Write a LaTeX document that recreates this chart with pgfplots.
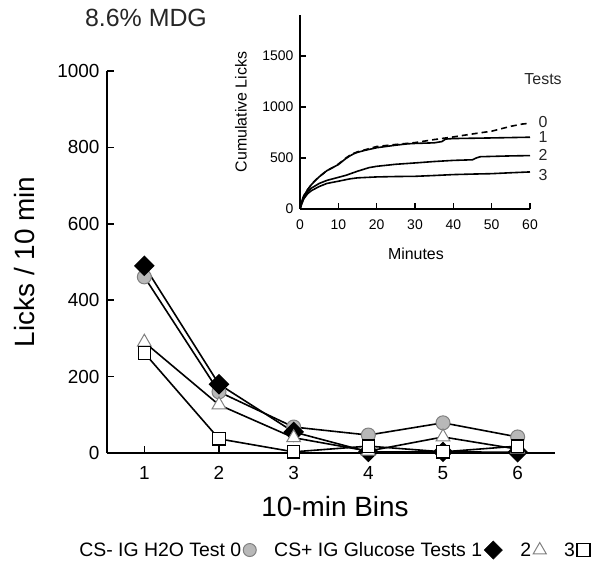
\documentclass[border=0pt]{standalone}
\usepackage{pgfplots}
\pgfplotsset{compat=1.18}
\usepackage{fontspec}
\setmainfont{Liberation Sans}
\newcommand{\fs}[1]{\fontsize{#1}{#1}\selectfont}
\pgfplotsset{markleg/.style={legend image code/.code={\draw[##1] plot coordinates {(0.22cm,0cm)};}}}
\definecolor{cgray}{HTML}{B8B8B8}
\definecolor{cgrayd}{HTML}{808080}
\begin{document}
\begin{tikzpicture}
\useasboundingbox (0,0) rectangle (604bp,569bp);
\node[font=\fs{25}, text=black!85] at (146bp,551bp) {8.6\% MDG};
% ---------------- main axis ----------------
\begin{axis}[
  at={(107bp,116bp)}, anchor=south west,
  width=448bp, height=382bp, scale only axis,
  xmin=0.5, xmax=6.5, ymin=0, ymax=1000,
  axis x line*=bottom, axis y line*=left,
  axis line style={line width=2.5bp,-},
  xtick={1,...,6}, ytick={0,200,...,1000},
  tick align=inside, major tick length=7bp,
  tick style={line width=1.5bp,black},
  /pgf/number format/assume math mode=true,
  /pgf/number format/1000 sep={},
  ticklabel style={font=\fs{19}},
  xticklabel style={yshift=-10bp},
  yticklabel style={xshift=-4bp},
  xlabel={10-min Bins}, ylabel={Licks / 10 min},
  label style={font=\fs{28}},
  xlabel style={at={(axis description cs:0.509,-0.141)}, anchor=center},
  ylabel style={at={(axis description cs:-0.185,0.5)}, anchor=center},
  clip=false,
  legend columns=4, legend plot pos=right,
  legend style={at={(axis description cs:0.506,-0.254)}, anchor=center,
    draw=none, fill=none, font=\fs{19.5},
    /tikz/every even column/.append style={column sep=16bp}},
]
\addlegendimage{mark=*, mark size=6.5bp, mark options={fill=cgray, draw=cgrayd, line width=1bp}, markleg}
\addlegendentry{CS- IG H2O Test 0}
\addlegendimage{mark=square*, mark size=6.5bp, mark options={rotate=45, fill=black, draw=black}, markleg}
\addlegendentry{CS+ IG Glucose Tests 1}
\addlegendimage{mark=triangle, mark size=7.5bp, mark options={draw=cgrayd, line width=1bp}, markleg}
\addlegendentry{2}
\addlegendimage{mark=square, mark size=6.5bp, mark options={draw=black, line width=1.2bp}, markleg}
\addlegendentry{3}

\addplot[black, line width=1.6bp, mark=*, mark size=7bp, mark options={fill=cgray, draw=cgrayd, line width=1bp}, forget plot]
 coordinates {(1,461) (2,160) (3,68) (4,47) (5,79) (6,42)};
\addplot[black, line width=1.6bp, mark=square*, mark size=6.5bp, mark options={rotate=45, fill=black, draw=black}, forget plot]
 coordinates {(1,490) (2,180) (3,55) (4,3) (5,3) (6,2)};
\addplot[black, line width=1.6bp, mark=triangle*, mark size=8bp, mark options={fill=white, draw=cgrayd, line width=1bp}, forget plot]
 coordinates {(1,290) (2,126) (3,40) (4,5) (5,42) (6,10)};
\addplot[black, line width=1.6bp, mark=square*, mark size=6.2bp, mark options={fill=white, draw=black, line width=1.2bp}, forget plot]
 coordinates {(1,262) (2,37) (3,3) (4,18) (5,3) (6,18)};
\end{axis}
% ---------------- inset ----------------
\begin{axis}[
  at={(300bp,360bp)}, anchor=south west,
  width=230bp, height=194bp, scale only axis,
  xmin=0, xmax=60, ymin=0, ymax=1900,
  axis x line*=bottom, axis y line*=left,
  axis line style={line width=2bp,-},
  xtick={0,10,...,60}, ytick={0,500,1000,1500},
  tick align=inside, major tick length=6bp,
  tick style={line width=1.5bp,black},
  /pgf/number format/assume math mode=true,
  /pgf/number format/1000 sep={},
  ticklabel style={font=\fs{14}},
  xticklabel style={yshift=-7bp},
  yticklabel style={xshift=-3bp},
  xlabel={Minutes}, ylabel={Cumulative Licks},
  label style={font=\fs{16}},
  xlabel style={at={(axis description cs:0.504,-0.232)}, anchor=center},
  ylabel style={at={(axis description cs:-0.257,0.5)}, anchor=center},
  clip=false,
]
\addplot[black, line width=1.6bp, dash pattern=on 6bp off 4bp] coordinates {
 (0,0) (0.5,80) (1,130) (2,190) (3,240) (4,280) (5,315) (6,345) (7,375) (8,395) (9,415)
 (10,440) (11,470) (12,500) (13,525) (14,545) (15,560) (17,580) (20,612) (25,632) (30,650)
 (35,680) (40,706) (45,735) (50,762) (55,810) (58,832) (60,840)};
\addplot[black, line width=1.6bp] coordinates {
 (0,0) (0.5,80) (1,130) (2,190) (3,240) (4,280) (5,315) (6,345) (7,375) (8,395) (9,415)
 (10,435) (11,465) (12,495) (13,520) (14,540) (15,555) (17,575) (20,600) (25,625) (28,638)
 (30,642) (35,648) (37,660) (38,685) (40,690) (50,696) (60,703)};
\addplot[black, line width=1.6bp] coordinates {
 (0,0) (0.5,60) (1,110) (2,170) (3,205) (5,250) (7,280) (10,310) (12,330) (15,370)
 (18,405) (20,418) (25,438) (30,451) (35,465) (40,476) (45,482) (46,500) (47,512)
 (50,515) (55,520) (60,523)};
\addplot[black, line width=1.6bp] coordinates {
 (0,0) (0.5,55) (1,100) (2,150) (3,180) (5,220) (7,250) (10,272) (13,295) (15,305)
 (20,314) (25,318) (30,320) (35,328) (40,337) (45,342) (50,346) (55,355) (60,363)};
\node[font=\fs{16}, text=black!85] at (axis cs:63.4,1275) {Tests};
\node[font=\fs{16}, text=black!85, inner sep=0pt] at (axis cs:63.4,853) {0};
\node[font=\fs{16}, text=black!85, inner sep=0pt] at (axis cs:63.4,706) {1};
\node[font=\fs{16}, text=black!85, inner sep=0pt] at (axis cs:63.4,529) {2};
\node[font=\fs{16}, text=black!85, inner sep=0pt] at (axis cs:63.4,333) {3};
\end{axis}
\end{tikzpicture}
\end{document}
